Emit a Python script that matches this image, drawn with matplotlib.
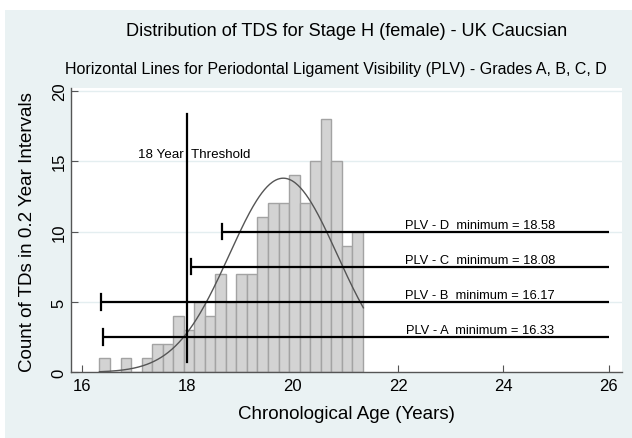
import numpy as np
import matplotlib
matplotlib.use("Agg")
import matplotlib.pyplot as plt
from matplotlib.patches import Rectangle

plt.rcParams['font.family'] = ['Liberation Sans', 'DejaVu Sans']

# ---- data ----
bin_start = 16.33
bin_width = 0.2
counts = [1, 0, 1, 0, 1, 2, 2, 4, 3, 5, 4, 7, 5, 7, 7, 11, 12, 12, 14, 12, 15, 18, 15, 9, 10]

# normal overlay parameters (mean / sd of ages, curve drawn across data range)
norm_mean = 19.82
norm_sd = 1.024
data_min = 16.33
data_max = 21.34

threshold_x = 18.0
threshold_y = [0.75, 18.35]

plv_labels = ["PLV - A  minimum = 16.33", "PLV - B  minimum = 16.17",
              "PLV - C  minimum = 18.08", "PLV - D  minimum = 18.58"]
plv_start = [16.39, 16.36, 18.07, 18.66]
plv_level = [2.5, 5.0, 7.5, 10.0]
plv_end = 26.0

xticks = [16, 18, 20, 22, 24, 26]
yticks = [0, 5, 10, 15, 20]

# ---- figure ----
W, H = 632, 439
fig = plt.figure(figsize=(W / 100, H / 100), dpi=100)
fig.patch.set_facecolor('white')
bg = '#eaf2f3'
fig.patches.append(Rectangle((5 / W, 0), 1 - 5 / W, (H - 11) / H,
                             transform=fig.transFigure, facecolor=bg,
                             edgecolor='none', zorder=-10))

ax = fig.add_axes([71 / W, (H - 373.3) / H, (622 - 71) / W, (373.3 - 89) / H])
ax.set_facecolor('white')
ax.set_xlim(15.79, 26.25)
ax.set_ylim(0, 20.2)

# gridlines
for y in yticks[1:]:
    ax.axhline(y, color='#e4eef0', lw=1.0, zorder=0)

# histogram
counts_arr = np.array(counts)
lefts = bin_start + bin_width * np.arange(len(counts_arr))
ax.bar(lefts, counts_arr, width=bin_width, align='edge',
       facecolor='#d3d3d3', edgecolor='#a3a3a3', linewidth=1.0, zorder=2)

# normal curve
N = counts_arr.sum()
xs = np.linspace(data_min, data_max, 300)
ys = N * bin_width / (norm_sd * np.sqrt(2 * np.pi)) * np.exp(-0.5 * ((xs - norm_mean) / norm_sd) ** 2)
ax.plot(xs, ys, color='#555555', lw=1.0, zorder=3)

# threshold
ax.plot([threshold_x, threshold_x], threshold_y, color='black', lw=1.6, zorder=4)
ax.text(threshold_x + 0.13, 15.32, "18 Year  Threshold", ha='center', va='baseline',
        fontsize=9.6, zorder=5)

# PLV lines
for lab, xs0, lvl in zip(plv_labels, plv_start, plv_level):
    ax.plot([xs0, plv_end], [lvl, lvl], color='black', lw=1.6, zorder=4,
            solid_capstyle='butt')
    ax.plot([xs0, xs0], [lvl - 0.55, lvl + 0.55], color='black', lw=1.6, zorder=4)
    ax.text(23.55, lvl + 0.28, lab, ha='center', va='baseline', fontsize=9.3, zorder=5)

# axes styling
for s in ['top', 'right']:
    ax.spines[s].set_visible(False)
for s in ['left', 'bottom']:
    ax.spines[s].set_color('#555555')
    ax.spines[s].set_linewidth(1.0)
ax.set_xticks(xticks)
ax.set_yticks(yticks)
ax.tick_params(axis='both', direction='in', length=5, width=0.8, color='#555555',
               labelsize=12)
ax.tick_params(axis='x', pad=4)
ax.tick_params(axis='y', pad=3)
for t in ax.get_yticklabels():
    t.set_rotation(90)
    t.set_va('center')

fig.text(346 / W, (H - 415) / H, "Chronological Age (Years)",
         ha='center', va='center', fontsize=13.5)
fig.text(28 / W, (H - 232) / H, "Count of TDs in 0.2 Year Intervals",
         ha='center', va='center', rotation=90, fontsize=13.5)

fig.text(346.5 / W, (H - 32) / H, "Distribution of TDS for Stage H (female) - UK Caucsian",
         ha='center', va='center', fontsize=13.1)
fig.text(336 / W, (H - 70) / H,
         "Horizontal Lines for Periodontal Ligament Visibility (PLV) - Grades A, B, C, D",
         ha='center', va='center', fontsize=11.55)

fig.savefig("out.png", dpi=100)
